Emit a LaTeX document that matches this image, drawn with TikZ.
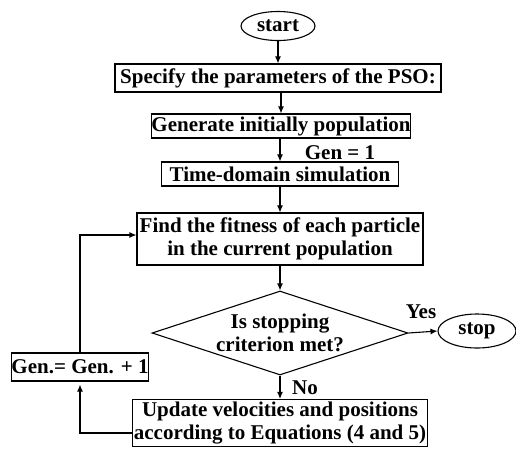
\documentclass[tikz,border=0pt]{standalone}
\usepackage{fontspec}
\setmainfont{Liberation Serif}
\usetikzlibrary{arrows.meta, positioning, shapes.geometric}

\begin{document}
\begin{tikzpicture}[
    x=1pt, y=-1pt,
    box/.style={draw, line width=1.1pt, inner sep=0pt, align=center},
    term/.style={draw, ellipse, line width=1.1pt, inner sep=0pt},
    arrow/.style={-{Latex[length=7pt,width=6pt]}, line width=1.1pt},
    every node/.style={font=\fontsize{21}{23}\selectfont\bfseries}
]

\useasboundingbox (0,0) rectangle (516,448);

% Terminals
\node[term, minimum width=74pt, minimum height=29pt] (start) at (278,26) {start};
\node[term, minimum width=78pt, minimum height=34pt] (stop) at (477,331) {stop};

% Main steps
\node[box, minimum width=326pt, minimum height=28pt] (param) at (278,78)
{Specify the parameters of the PSO:};

\node[box, minimum width=259pt, minimum height=24pt] (init) at (281,126)
{Generate initially population};

\node[box, minimum width=237pt, minimum height=24pt] (sim) at (280,174)
{Time-domain simulation};

\node[box, minimum width=286pt, minimum height=52pt] (fit) at (280,239)
{Find the fitness of each particle\\
in the current population};

% Decision
\node[box, diamond, minimum width=256pt, minimum height=84pt,
      label={[align=center]center:Is stopping\\criterion met?}] (check) at (280,333) {};

\node[box, minimum width=295pt, minimum height=47pt] (update) at (280,423)
{Update velocities and positions\\
according to Equations (4 and 5)};

\node[box, minimum width=137pt, minimum height=28pt] (gen) at (80,367)
{Gen.= Gen. + 1};

% Labels
\node (genone) at (340,153) {Gen = 1};
\node (yes) at (421,312) {Yes};
\node (no) at (305,388) {No};

% Arrows
\draw[arrow] (start.south) -- (start.south |- param.north);
\draw[arrow] (param.south -| init.north) -- (init.north);
\draw[arrow] (init.south -| sim.north) -- (sim.north);
\draw[arrow] (sim.south) -- (fit.north);
\draw[arrow] (fit.south) -- (check.north);
\draw[arrow] (check.east) -- (stop.west);
\draw[arrow] (check.south) -- (update.north);

% Loop back
\draw[arrow] ([yshift=-10pt]update.west) -| ([yshift=-3pt]gen.south);
\draw[arrow] (gen.north) |- ([yshift=4pt]fit.west);

\end{tikzpicture}
\end{document}
